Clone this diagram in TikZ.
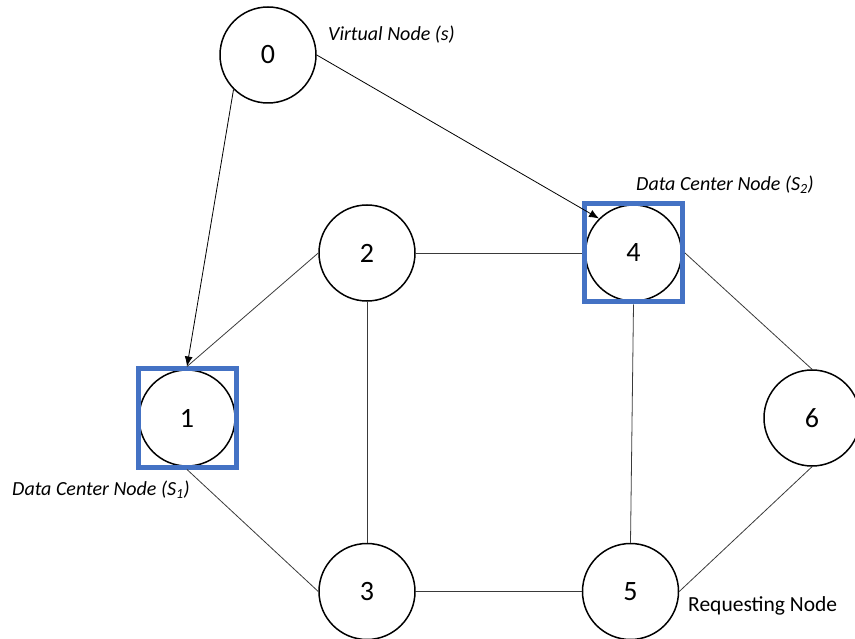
\documentclass[tikz,border=0pt]{standalone}
\usepackage{fontspec}
\setmainfont{Carlito}
\usepackage{xcolor}
\usetikzlibrary{arrows.meta,positioning}
\definecolor{dcblue}{HTML}{4472C4}
\definecolor{edgegray}{HTML}{3A3A3A}
\tikzset{
  vnode/.style={draw=black, circle, line width=1.5pt, minimum size=96pt, inner sep=0pt, fill=white, font=\fontsize{28}{30}\selectfont},
  dcbox/.style={draw=dcblue, rectangle, line width=5pt, minimum size=98pt, inner sep=0pt},
  lbl/.style={font=\fontsize{20}{22}\selectfont, inner sep=0pt},
  link/.style={line width=0.8pt, draw=edgegray},
  arr/.style={-{Latex[length=10pt,width=8pt]}, line width=0.8pt, draw=black}
}
\begin{document}
\begin{tikzpicture}[x=1pt, y=-1pt]
  \useasboundingbox (0,0) rectangle (855,639);

  \node[vnode] (n0) at (268,55) {0};
  \node[vnode] (n2) at (367,253) {2};
  \node[vnode, right=169pt of n2] (n4) {4};
  \node[vnode, below=241pt of n2] (n3) {3};
  \node[vnode, right=166pt of n3] (n5) {5};
  \node[vnode] (n1) at (187,418) {1};
  \node[vnode] (n6) at (812,418) {6};

  \node[dcbox] (s1) at (n1) {};
  \node[dcbox] (s4) at (n4) {};

  \node[lbl, anchor=west] (l0) at (328,35) {\textit{Virtual Node (s)}};
  \node[lbl, anchor=west] (l4) at (636,185) {\textit{Data Center Node (S\textsubscript{2})}};
  \node[lbl, anchor=west] (l1) at (12,490) {\textit{Data Center Node (S\textsubscript{1})}};
  \node[lbl, anchor=west, font=\fontsize{21.5}{23}\selectfont] (l5) at (688,606) {Requesting Node};

  \draw[arr] (n0.south west) -- (s1.north);
  \draw[arr] (n0.east) -- (n4.north west);

  \draw[link] (n2.west) -- (s1.north);
  \draw[link] (n2.east) -- (s4.west);
  \draw[link] (n2.south) -- (n3.north);
  \draw[link] (s1.south) -- (n3.west);
  \draw[link] (n3.east) -- (n5.west);
  \draw[link] (s4.south) -- (n5.north);
  \draw[link] (s4.east) -- (n6.north);
  \draw[link] (n6.south) -- (n5.east);
\end{tikzpicture}
\end{document}
